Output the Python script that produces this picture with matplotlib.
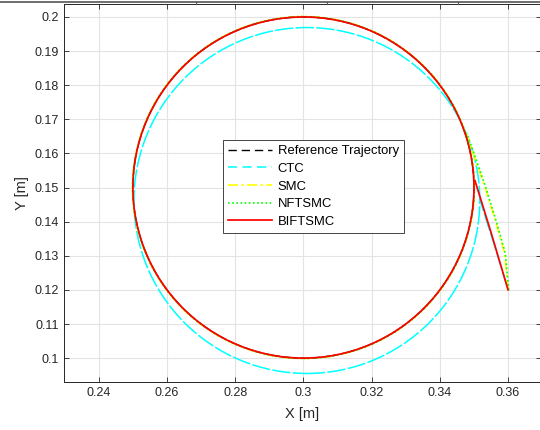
import numpy as np
import matplotlib
matplotlib.use("Agg")
import matplotlib.pyplot as plt
from matplotlib.patches import Circle
from matplotlib.lines import Line2D

plt.rcParams["font.family"] = ["Liberation Sans", "DejaVu Sans"]

# circles: (center x, center y, radius)
ref_circle = (0.300, 0.150, 0.0500)
ctc_circle = (0.301, 0.1462, 0.0507)
smc_circle = (0.300, 0.150, 0.0501)
nft_circle = (0.300, 0.150, 0.0501)
bif_circle = (0.300, 0.150, 0.0500)

# approach segments from the start point to the circle
ctc_x = [0.3600, 0.3560, 0.3518]
ctc_y = [0.1200, 0.1330, 0.1462]
smc_x = [0.3600, 0.3590, 0.3562, 0.3532, 0.3498, 0.3477]
smc_y = [0.1200, 0.1307, 0.1405, 0.1502, 0.1600, 0.1660]
nft_x = [0.3602, 0.3592, 0.3564, 0.3534, 0.3500, 0.3478]
nft_y = [0.1200, 0.1307, 0.1405, 0.1502, 0.1600, 0.1660]
bif_x = [0.3600, 0.3548, 0.3503]
bif_y = [0.1200, 0.1375, 0.1520]

x_ticks = [0.24, 0.26, 0.28, 0.30, 0.32, 0.34, 0.36]
y_ticks = [0.10, 0.11, 0.12, 0.13, 0.14, 0.15, 0.16, 0.17, 0.18, 0.19, 0.20]

# name, circle, approach x, approach y, colour, line style on plot, legend style, width
series = [
    ("Reference Trajectory", ref_circle, None, None, "black", (0, (12, 1.5)), (0, (6, 3.5)), 1.0),
    ("CTC", ctc_circle, ctc_x, ctc_y, "#00FFFF", (0, (12, 1.5)), (0, (6, 3.5)), 1.1),
    ("SMC", smc_circle, smc_x, smc_y, "#FFFF00", (0, (6, 2, 1.5, 2)), (0, (6, 2, 1.5, 2)), 1.2),
    ("NFTSMC", nft_circle, nft_x, nft_y, "#00FF00", (0, (1, 1.5)), (0, (1, 1.5)), 1.2),
    ("BIFTSMC", bif_circle, bif_x, bif_y, "#FF0000", "-", "-", 1.25),
]

fig = plt.figure(figsize=(5.4, 4.3), dpi=100)
W, H = 540, 430
ax = fig.add_axes([64 / W, (H - 382) / H, (541 - 64) / W, (382 - 4) / H])

handles = []
for name, circ, xs, ys, color, ls, leg_ls, lw in series:
    cx, cy, r = circ
    ax.add_patch(Circle((cx, cy), r, fill=False, edgecolor=color,
                        linestyle=ls, linewidth=lw, zorder=3))
    if xs is not None:
        ax.plot(xs, ys, color=color, linestyle=ls, linewidth=lw, zorder=3)
    handles.append(Line2D([], [], color=color, linestyle=leg_ls, linewidth=lw, label=name))

ax.set_xlim(0.2298, 0.36965)
ax.set_ylim(0.0930, 0.2038)
ax.set_xticks(x_ticks)
ax.set_yticks(y_ticks)
ax.set_xticklabels(["%g" % v for v in x_ticks])
ax.set_yticklabels(["%g" % v for v in y_ticks])
ax.grid(True, color="#e3e3e3", linewidth=0.8)
ax.set_axisbelow(True)
ax.tick_params(direction="in", top=True, right=True, length=3.5, width=0.6,
               labelsize=9, colors="#262626")
for s in ax.spines.values():
    s.set_color("#262626")
    s.set_linewidth(0.7)

ax.set_xlabel("X [m]", fontsize=10.5, color="#262626", labelpad=6)
ax.set_ylabel("Y [m]", fontsize=10.5, color="#262626", labelpad=4)

leg = ax.legend(handles=handles, loc="upper left", bbox_to_anchor=(0.333, 0.640),
                borderaxespad=0, fontsize=9.4, handlelength=3.4, handletextpad=0.4,
                labelspacing=0.42, borderpad=0.4, fancybox=False, framealpha=1)
leg.get_frame().set_edgecolor("#262626")
leg.get_frame().set_linewidth(0.6)

# remnant of the plot above this one at the very top edge
fig.add_artist(Line2D([0, 1], [1 - 1.5 / H, 1 - 1.5 / H], color="#555555", linewidth=1.2))
for tx in [196, 327, 458]:
    fig.add_artist(Line2D([tx / W, tx / W], [1 - 1.5 / H, 1 - 4 / H], color="#555555", linewidth=0.8))

fig.savefig("out.png", dpi=100)
